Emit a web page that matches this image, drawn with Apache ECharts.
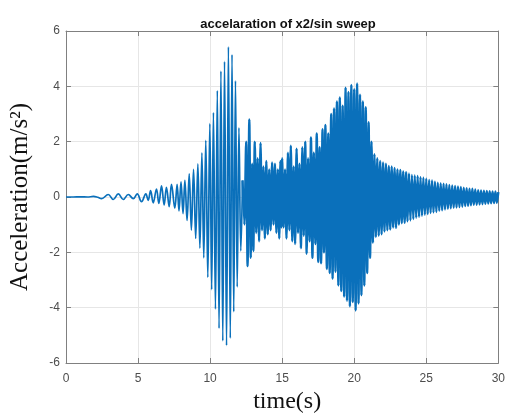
<!DOCTYPE html>
<html>
<head>
<meta charset="utf-8">
<script src="https://cdn.jsdelivr.net/npm/echarts@6/dist/echarts.min.js"></script>
<style>
html,body{margin:0;padding:0;background:#fff;}
#chart{width:508px;height:419px;}
</style>
</head>
<body>
<div id="chart"></div>
<script>
// ---- data: [time (s), acceleration (m/s^2)] ----
const quietPhase = [[0,0],[0.5,0],[1.0,0.005],[1.5,0],[1.9,0.02],[2.2,-0.01],[2.47,-0.06],[2.93,0.09],[3.28,-0.09],[3.63,0.11],[3.97,-0.09],[4.32,0.09],[4.67,-0.06],[4.94,0.11],[5.24,-0.17],[5.54,0.11],[5.70,-0.12],[5.87,0.23],[6.05,-0.21],[6.28,0.29],[6.44,-0.23],[6.63,0.40],[6.81,-0.29],[6.97,0.35],[7.16,-0.35],[7.32,0.46],[7.55,-0.40],[7.71,0.46]];

const firstResonance = [[7.84,-0.5],[7.98,0.55],[8.12,-0.6],[8.25,0.6],[8.4,-0.85],[8.55,0.84],[8.7,-1.2],[8.85,1.0],[9.0,-1.5],[9.15,1.2],[9.29,-1.85],[9.43,1.6],[9.56,-2.2],[9.7,2.05],[9.84,-2.9],[9.98,2.65],[10.11,-3.35],[10.23,3.05],[10.37,-4.05],[10.5,3.85],[10.62,-4.75],[10.75,4.55],[10.88,-5.2],[11.0,4.9],[11.14,-5.37],[11.27,5.43],[11.4,-5.1],[11.52,5.15],[11.64,-4.15],[11.76,4.2],[11.88,-3.25],[12.0,2.5],[12.13,-1.95],[12.25,0.6]];

const beatPhase = [[12.38,-1.0],[12.5,2.0],[12.6,-2.5],[12.72,2.8],[12.82,-2.2],[12.92,1.2],[13.0,-1.95],[13.1,2.0],[13.2,-1.3],[13.3,1.4],[13.4,-1.6],[13.5,1.95],[13.6,-1.2],[13.7,1.1],[13.8,-1.5],[13.9,1.3],[14.0,-1.35],[14.1,1.0],[14.2,-1.2],[14.3,1.25],[14.4,-1.0],[14.5,1.2],[14.6,-1.3],[14.7,1.0],[14.8,-1.5],[14.88,1.3],[14.95,-1.1]];

const secondResonance = [[15.0,1.4],[15.1,-1.1],[15.2,1.0],[15.3,-1.5],[15.4,1.6],[15.5,-1.2],[15.6,1.85],[15.7,-1.6],[15.8,1.1],[15.9,-1.7],[16.0,1.75],[16.1,-1.3],[16.2,1.2],[16.3,-1.85],[16.4,1.8],[16.5,-1.4],[16.6,2.0],[16.7,-2.05],[16.8,1.4],[16.9,-1.6],[17.0,2.15],[17.1,-2.2],[17.2,1.6],[17.3,-1.7],[17.4,2.3],[17.5,-2.35],[17.6,1.8],[17.7,-2.4],[17.8,2.45],[17.9,-2.0],[18.0,2.6],[18.1,-2.6],[18.2,2.3],[18.3,-2.75],[18.4,3.0],[18.5,-2.95],[18.6,3.2],[18.7,-2.7],[18.8,3.45],[18.9,-3.2],[19.0,3.6],[19.1,-3.4],[19.2,3.3],[19.3,-3.6],[19.4,3.95],[19.5,-3.75],[19.6,3.8],[19.7,-3.95],[19.8,4.05],[19.9,-3.8],[20.0,3.9],[20.1,-4.1],[20.2,4.1],[20.3,-3.85],[20.4,3.7],[20.5,-3.55],[20.6,3.45],[20.7,-3.2],[20.8,3.25],[20.9,-2.75],[21.0,2.7],[21.1,-2.2],[21.2,2.0],[21.3,-1.65],[21.4,1.55],[21.5,-1.45]];

const decayPhase = [[21.6,1.4],[21.7,-1.4],[21.8,1.3],[21.9,-1.35],[22.0,1.25],[22.1,-1.25],[22.2,1.2],[22.3,-1.2],[22.4,1.12],[22.5,-1.18],[22.6,1.1],[22.7,-1.1],[22.8,1.05],[22.9,-1.12],[23.0,1.0],[23.1,-1.0],[23.2,0.98],[23.3,-0.95],[23.4,0.92],[23.5,-0.93],[23.6,0.9],[23.7,-0.88],[23.8,0.85],[23.9,-0.85],[24.0,0.8],[24.1,-0.8],[24.2,0.78],[24.3,-0.75],[24.4,0.76],[24.5,-0.72],[24.6,0.72],[24.7,-0.68],[24.8,0.7],[24.9,-0.64],[25.0,0.66],[25.1,-0.62],[25.2,0.62],[25.3,-0.58],[25.4,0.6],[25.5,-0.56],[25.6,0.55],[25.7,-0.54],[25.8,0.52],[25.9,-0.5],[26.0,0.5],[26.1,-0.48],[26.2,0.48],[26.3,-0.45],[26.4,0.46],[26.5,-0.43],[26.6,0.44],[26.7,-0.41],[26.8,0.42],[26.9,-0.39],[27.0,0.4],[27.1,-0.38],[27.2,0.38],[27.3,-0.36],[27.4,0.36],[27.5,-0.35],[27.6,0.34],[27.7,-0.33],[27.8,0.32],[27.9,-0.32],[28.0,0.3],[28.1,-0.3],[28.2,0.3],[28.3,-0.28],[28.4,0.27],[28.5,-0.28],[28.6,0.25],[28.7,-0.27],[28.8,0.24],[28.9,-0.26],[29.0,0.23],[29.1,-0.25],[29.2,0.22],[29.3,-0.24],[29.4,0.21],[29.5,-0.23],[29.6,0.2],[29.7,-0.22],[29.8,0.2],[29.9,-0.21],[30.0,0.18]];

const xTicks = [0, 5, 10, 15, 20, 25, 30];
const yTicks = [-6, -4, -2, 0, 2, 4, 6];
const titleText = 'accelaration of x2/sin sweep';
const xName = 'time(s)';
const yName = 'Acceleration(m/s\u00B2)';

// ---- chart ----
const sparsePart = [].concat(quietPhase, firstResonance);
const densePart = [firstResonance[firstResonance.length - 1]].concat(beatPhase, secondResonance, decayPhase);

const lineColor = '#0a70bb';
const axisColor = '#808080';
const labelStyle = {color: '#4d4d4d', fontSize: 12, fontFamily: 'Liberation Sans'};

function baseAxis(ticks, extra) {
  return Object.assign({
    type: 'value',
    min: ticks[0],
    max: ticks[ticks.length - 1],
    interval: ticks[1] - ticks[0],
    axisLine: {show: true, onZero: false, lineStyle: {color: axisColor, width: 1}},
    axisTick: {show: true, inside: true, length: 5, lineStyle: {color: axisColor}},
    splitLine: {show: false}
  }, extra);
}

const chart = echarts.init(document.getElementById('chart'), null, {renderer: 'canvas'});
chart.setOption({
  animation: false,
  backgroundColor: '#ffffff',
  title: {
    text: titleText,
    left: 283,
    top: 13,
    textAlign: 'center',
    textStyle: {fontFamily: 'Liberation Sans', fontWeight: 'bold', fontSize: 13, color: '#111'}
  },
  grid: {left: 66, right: 8, top: 31, bottom: 44},
  xAxis: [
    baseAxis(xTicks, {
      position: 'bottom',
      axisLabel: Object.assign({margin: 10}, labelStyle),
      splitLine: {show: true, lineStyle: {color: '#e6e6e6', width: 1}},
      name: xName,
      nameLocation: 'middle',
      nameGap: 27,
      nameTextStyle: {fontFamily: 'Liberation Serif', fontSize: 24, color: '#111', padding: [0, 0, 0, 10]}
    }),
    baseAxis(xTicks, {position: 'top', axisLabel: {show: false}})
  ],
  yAxis: [
    baseAxis(yTicks, {
      position: 'left',
      axisLabel: Object.assign({margin: 6}, labelStyle),
      splitLine: {show: true, lineStyle: {color: '#e6e6e6', width: 1}},
      name: yName,
      nameLocation: 'middle',
      nameGap: 33,
      nameTextStyle: {fontFamily: 'Liberation Serif', fontSize: 25, color: '#111'}
    }),
    baseAxis(yTicks, {position: 'right', axisLabel: {show: false}})
  ],
  series: [{
    type: 'line',
    xAxisIndex: 0,
    yAxisIndex: 0,
    data: sparsePart,
    showSymbol: false,
    symbol: 'none',
    smooth: 0.4,
    lineStyle: {color: lineColor, width: 1.7}
  }, {
    type: 'line',
    xAxisIndex: 0,
    yAxisIndex: 0,
    data: densePart,
    showSymbol: false,
    symbol: 'none',
    smooth: 0.2,
    lineStyle: {color: lineColor, width: 2.4}
  }]
});
</script>
</body>
</html>
